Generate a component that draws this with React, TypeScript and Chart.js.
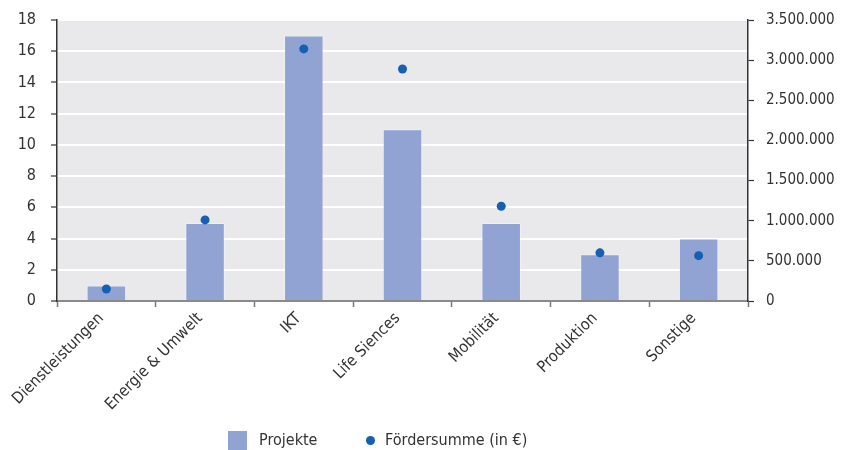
import React, { useEffect, useRef } from "react";
import { Chart, registerables } from "chart.js";

Chart.register(...registerables);

const categories = ["Dienstleistungen", "Energie & Umwelt", "IKT", "Life Siences", "Mobilität", "Produktion", "Sonstige"];
const projekte = [1, 5, 17, 11, 5, 3, 4];
const foerdersumme = [150000, 1010000, 3140000, 2890000, 1180000, 600000, 565000];

const FONT = "'DejaVu Sans Condensed', 'Liberation Sans Narrow', sans-serif";
const BAR_COLOR = "#91a3d3";
const DOT_COLOR = "#1560b0";
const TEXT = "#333333";

function fmt(v: number): string {
  return String(Math.round(v)).replace(/\B(?=(\d{3})+(?!\d))/g, ".");
}

const bgPlugin = {
  id: "bgArea",
  beforeDraw(chart: any) {
    const { ctx, chartArea } = chart;
    ctx.save();
    ctx.fillStyle = "#e9e9ec";
    ctx.fillRect(chartArea.left, chartArea.top, chartArea.right - chartArea.left, chartArea.bottom - chartArea.top);
    ctx.restore();
  },
};

export default function App() {
  const ref = useRef<HTMLCanvasElement | null>(null);
  useEffect(() => {
    document.body.style.margin = "0";
    const chart = new Chart(ref.current as HTMLCanvasElement, {
      type: "bar",
      data: {
        labels: categories,
        datasets: [
          {
            type: "line",
            label: "Fördersumme (in €)",
            data: foerdersumme,
            yAxisID: "y1",
            showLine: false,
            pointRadius: 4.5,
            pointBackgroundColor: DOT_COLOR,
            pointBorderWidth: 0,
            backgroundColor: DOT_COLOR,
            borderColor: DOT_COLOR,
            order: 0,
          } as any,
          {
            type: "bar",
            label: "Projekte",
            data: projekte,
            yAxisID: "y",
            backgroundColor: BAR_COLOR,
            borderColor: "rgba(255,255,255,0.35)",
            borderWidth: 1,
            barPercentage: 0.4,
            categoryPercentage: 1,
            order: 1,
          },
        ],
      },
      options: {
        animation: false,
        responsive: false,
        maintainAspectRatio: false,
        layout: { padding: { top: 20, bottom: 0, left: 0, right: 0 } },
        plugins: { legend: { display: false }, tooltip: { enabled: false } },
        scales: {
          x: {
            offset: true,
            grid: {
              offset: true,
              drawOnChartArea: false,
              drawTicks: true,
              tickLength: 6,
              tickColor: "#7a7a7a",
              tickWidth: 1.5,
            },
            border: { color: "#8a8a8a", width: 2 },
            ticks: {
              color: TEXT,
              font: { family: FONT, size: 16 },
              maxRotation: 45,
              minRotation: 45,
              padding: 2,
              labelOffset: -5,
              autoSkip: false,
            },
            afterFit(scale: any) {
              scale.height = 149;
              scale.paddingLeft = 0;
              scale.paddingRight = 0;
            },
          },
          y: {
            position: "left",
            min: 0,
            max: 18,
            ticks: { stepSize: 2, color: TEXT, font: { family: FONT, size: 16 }, padding: 15 },
            grid: {
              color: "#ffffff",
              lineWidth: 2,
              drawTicks: true,
              tickLength: 6,
              tickColor: "#333333",
              tickWidth: 1.2,
            },
            border: { color: "#333333", width: 1.5 },
            afterFit(scale: any) {
              scale.width = 57;
              scale.paddingTop = 0;
              scale.paddingBottom = 0;
            },
          },
          y1: {
            position: "right",
            min: 0,
            max: 3500000,
            ticks: {
              stepSize: 500000,
              color: TEXT,
              font: { family: FONT, size: 15 },
              padding: 12,
              callback: (v: any) => fmt(Number(v)),
            },
            grid: {
              drawOnChartArea: false,
              drawTicks: true,
              tickLength: 6,
              tickColor: "#333333",
              tickWidth: 1.2,
            },
            border: { color: "#333333", width: 1.5 },
            afterFit(scale: any) {
              scale.width = 94;
              scale.paddingTop = 0;
              scale.paddingBottom = 0;
            },
          },
        },
      } as any,
      plugins: [bgPlugin],
    });
    return () => chart.destroy();
  }, []);

  return (
    <div style={{ position: "relative", width: 842, height: 450, overflow: "hidden", fontFamily: FONT }}>
      <canvas ref={ref} width={842} height={450} style={{ display: "block" }} />
      <div style={{ position: "absolute", left: 228, top: 431, width: 19, height: 19, background: BAR_COLOR }} />
      <div style={{ position: "absolute", left: 259, top: 430, fontSize: 16, color: TEXT, lineHeight: "20px", whiteSpace: "nowrap" }}>Projekte</div>
      <div style={{ position: "absolute", left: 365.5, top: 435.5, width: 9, height: 9, borderRadius: "50%", background: DOT_COLOR }} />
      <div style={{ position: "absolute", left: 385, top: 430, fontSize: 16, color: TEXT, lineHeight: "20px", whiteSpace: "nowrap" }}>Fördersumme (in €)</div>
    </div>
  );
}
